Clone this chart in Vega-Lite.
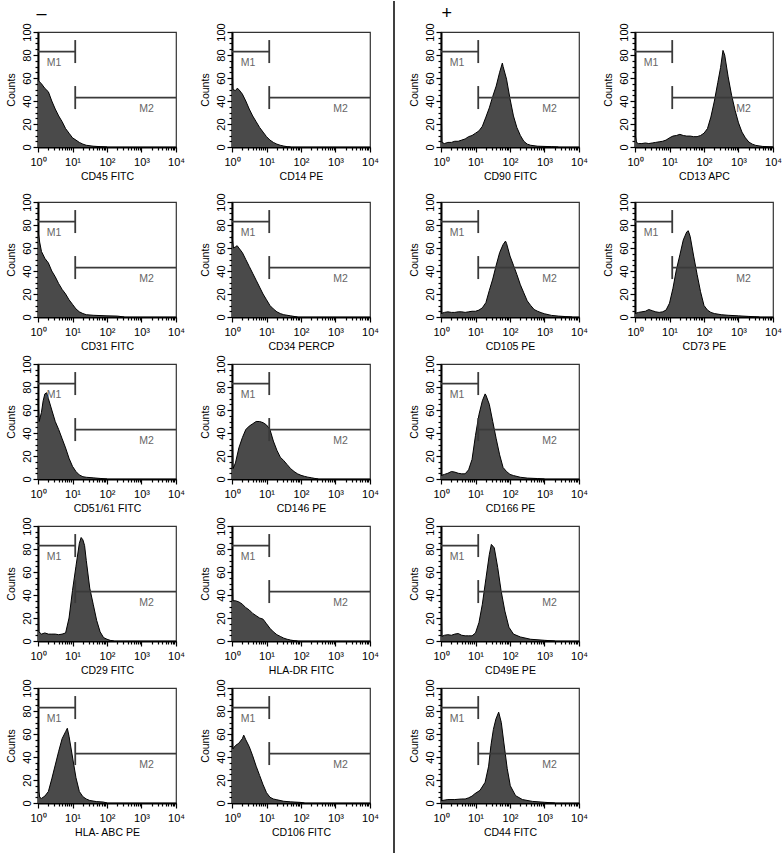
{
"$schema":"https://vega.github.io/schema/vega-lite/v6.json",
"background":"white",
"padding":{"left":5,"right":5,"top":0,"bottom":5},
"config":{"font":"Liberation Sans","view":{"stroke":"#333","strokeWidth":1.2},
"axis":{"grid":false,"domainColor":"#000","domainWidth":2,"tickColor":"#000","tickWidth":1.2,"labelFontSize":11,"labelColor":"#000","titleFontSize":10.5,"titleFontWeight":"normal","titleColor":"#000"},
"axisX":{"labelPadding":4,"titlePadding":4},
"axisY":{"labelPadding":1,"titlePadding":5},
"title":{"fontSize":18,"fontWeight":"normal","color":"#000","anchor":"start","offset":-1}},
"datasets":{
"m":[{"x":1,"x2":12,"y":83,"y2":83},{"x":12,"x2":12,"y":73,"y2":93},{"x":12,"x2":10000,"y":43,"y2":43},{"x":12,"x2":12,"y":33,"y2":53}],
"t":[{"x":2.9,"y":73,"t":"M1"},{"x":1400,"y":33,"t":"M2"}],
"d":[{"x":1,"y":851},{"x":1,"y":-40}],
"h":[
{"p":"CD45","x":1,"y":58},{"p":"CD45","x":1.26,"y":55},{"p":"CD45","x":1.58,"y":51},{"p":"CD45","x":2,"y":48},{"p":"CD45","x":2.51,"y":40},{"p":"CD45","x":3.16,"y":33},{"p":"CD45","x":3.98,"y":27},{"p":"CD45","x":5.01,"y":22},{"p":"CD45","x":6.31,"y":16},{"p":"CD45","x":7.94,"y":12},{"p":"CD45","x":10,"y":8},{"p":"CD45","x":12.6,"y":6},{"p":"CD45","x":15.8,"y":4},{"p":"CD45","x":20,"y":2.5},{"p":"CD45","x":25.1,"y":1.5},{"p":"CD45","x":39.8,"y":0.7},{"p":"CD45","x":63.1,"y":0.3},{"p":"CD45","x":100,"y":0},
{"p":"CD14","x":1,"y":74},{"p":"CD14","x":1.06,"y":50},{"p":"CD14","x":1.26,"y":49},{"p":"CD14","x":1.41,"y":51},{"p":"CD14","x":1.58,"y":50},{"p":"CD14","x":2,"y":46},{"p":"CD14","x":2.51,"y":40},{"p":"CD14","x":3.16,"y":33},{"p":"CD14","x":3.98,"y":27},{"p":"CD14","x":5.01,"y":22},{"p":"CD14","x":6.31,"y":17},{"p":"CD14","x":7.94,"y":13},{"p":"CD14","x":10,"y":9},{"p":"CD14","x":12.6,"y":6},{"p":"CD14","x":15.8,"y":4},{"p":"CD14","x":20,"y":2.5},{"p":"CD14","x":25.1,"y":1.5},{"p":"CD14","x":31.6,"y":0.8},{"p":"CD14","x":39.8,"y":0.3},{"p":"CD14","x":50.1,"y":0},
{"p":"CD31","x":1,"y":75},{"p":"CD31","x":1.12,"y":65},{"p":"CD31","x":1.26,"y":57},{"p":"CD31","x":1.58,"y":51},{"p":"CD31","x":2,"y":47},{"p":"CD31","x":2.51,"y":40},{"p":"CD31","x":3.16,"y":35},{"p":"CD31","x":3.98,"y":29},{"p":"CD31","x":5.01,"y":24},{"p":"CD31","x":6.31,"y":20},{"p":"CD31","x":7.94,"y":15},{"p":"CD31","x":10,"y":11},{"p":"CD31","x":12.6,"y":7},{"p":"CD31","x":15.8,"y":4.5},{"p":"CD31","x":20,"y":3},{"p":"CD31","x":25.1,"y":2},{"p":"CD31","x":39.8,"y":1.5},{"p":"CD31","x":100,"y":1},{"p":"CD31","x":200,"y":0.8},{"p":"CD31","x":316,"y":0},
{"p":"CD34","x":1,"y":70},{"p":"CD34","x":1.1,"y":60},{"p":"CD34","x":1.26,"y":61},{"p":"CD34","x":1.41,"y":62},{"p":"CD34","x":1.58,"y":60},{"p":"CD34","x":2,"y":56},{"p":"CD34","x":2.51,"y":50},{"p":"CD34","x":3.16,"y":44},{"p":"CD34","x":3.98,"y":38},{"p":"CD34","x":5.01,"y":32},{"p":"CD34","x":6.31,"y":26},{"p":"CD34","x":7.94,"y":20},{"p":"CD34","x":10,"y":15},{"p":"CD34","x":12.6,"y":10},{"p":"CD34","x":15.8,"y":7},{"p":"CD34","x":20,"y":4.5},{"p":"CD34","x":25.1,"y":3},{"p":"CD34","x":31.6,"y":2},{"p":"CD34","x":50.1,"y":1},{"p":"CD34","x":79.4,"y":0},
{"p":"CD51","x":1,"y":70},{"p":"CD51","x":1.08,"y":50},{"p":"CD51","x":1.26,"y":58},{"p":"CD51","x":1.41,"y":68},{"p":"CD51","x":1.58,"y":74},{"p":"CD51","x":1.78,"y":75},{"p":"CD51","x":2,"y":70},{"p":"CD51","x":2.51,"y":60},{"p":"CD51","x":3.16,"y":50},{"p":"CD51","x":3.98,"y":43},{"p":"CD51","x":5.01,"y":35},{"p":"CD51","x":6.31,"y":27},{"p":"CD51","x":7.94,"y":18},{"p":"CD51","x":10,"y":11},{"p":"CD51","x":12.6,"y":6.5},{"p":"CD51","x":15.8,"y":3.5},{"p":"CD51","x":20,"y":2},{"p":"CD51","x":25.1,"y":1.5},{"p":"CD51","x":39.8,"y":1},{"p":"CD51","x":63.1,"y":0.5},{"p":"CD51","x":100,"y":0},
{"p":"CD146","x":1,"y":53},{"p":"CD146","x":1.07,"y":9},{"p":"CD146","x":1.26,"y":14},{"p":"CD146","x":1.58,"y":27},{"p":"CD146","x":2,"y":36},{"p":"CD146","x":2.51,"y":43},{"p":"CD146","x":3.16,"y":46},{"p":"CD146","x":3.98,"y":48},{"p":"CD146","x":5.01,"y":50},{"p":"CD146","x":6.31,"y":50},{"p":"CD146","x":7.94,"y":49},{"p":"CD146","x":10,"y":47},{"p":"CD146","x":12.6,"y":43},{"p":"CD146","x":15.8,"y":33},{"p":"CD146","x":20,"y":25},{"p":"CD146","x":25.1,"y":19},{"p":"CD146","x":31.6,"y":16},{"p":"CD146","x":39.8,"y":12.5},{"p":"CD146","x":50.1,"y":9},{"p":"CD146","x":63.1,"y":6.5},{"p":"CD146","x":79.4,"y":4.5},{"p":"CD146","x":100,"y":3.2},{"p":"CD146","x":126,"y":2.3},{"p":"CD146","x":158,"y":1.6},{"p":"CD146","x":200,"y":1.1},{"p":"CD146","x":251,"y":0.5},{"p":"CD146","x":316,"y":0},
{"p":"CD29","x":1,"y":55},{"p":"CD29","x":1.06,"y":8},{"p":"CD29","x":1.26,"y":6},{"p":"CD29","x":1.58,"y":7},{"p":"CD29","x":2,"y":6},{"p":"CD29","x":2.51,"y":6},{"p":"CD29","x":3.16,"y":6},{"p":"CD29","x":3.98,"y":5.5},{"p":"CD29","x":5.01,"y":6},{"p":"CD29","x":6.31,"y":7},{"p":"CD29","x":7.94,"y":20},{"p":"CD29","x":10,"y":44},{"p":"CD29","x":12.6,"y":65},{"p":"CD29","x":15.8,"y":85},{"p":"CD29","x":17.8,"y":90},{"p":"CD29","x":20,"y":88},{"p":"CD29","x":22.4,"y":83},{"p":"CD29","x":25.1,"y":70},{"p":"CD29","x":31.6,"y":46},{"p":"CD29","x":39.8,"y":32},{"p":"CD29","x":50.1,"y":18},{"p":"CD29","x":63.1,"y":8},{"p":"CD29","x":79.4,"y":3},{"p":"CD29","x":100,"y":1.5},{"p":"CD29","x":126,"y":0.5},{"p":"CD29","x":158,"y":0},
{"p":"HLADR","x":1,"y":62},{"p":"HLADR","x":1.06,"y":35},{"p":"HLADR","x":1.26,"y":35},{"p":"HLADR","x":1.58,"y":34},{"p":"HLADR","x":2,"y":32},{"p":"HLADR","x":2.51,"y":29},{"p":"HLADR","x":3.16,"y":27},{"p":"HLADR","x":3.98,"y":24},{"p":"HLADR","x":5.01,"y":22},{"p":"HLADR","x":6.31,"y":20},{"p":"HLADR","x":7.94,"y":19},{"p":"HLADR","x":10,"y":15},{"p":"HLADR","x":12.6,"y":11},{"p":"HLADR","x":15.8,"y":8},{"p":"HLADR","x":20,"y":5.5},{"p":"HLADR","x":25.1,"y":4},{"p":"HLADR","x":31.6,"y":2.5},{"p":"HLADR","x":39.8,"y":1.5},{"p":"HLADR","x":50.1,"y":0.8},{"p":"HLADR","x":63.1,"y":0.3},{"p":"HLADR","x":79.4,"y":0},
{"p":"HLAABC","x":1,"y":35},{"p":"HLAABC","x":1.06,"y":10},{"p":"HLAABC","x":1.12,"y":5},{"p":"HLAABC","x":1.26,"y":4},{"p":"HLAABC","x":1.58,"y":6},{"p":"HLAABC","x":2,"y":10},{"p":"HLAABC","x":2.51,"y":21},{"p":"HLAABC","x":3.16,"y":33},{"p":"HLAABC","x":3.98,"y":45},{"p":"HLAABC","x":5.01,"y":56},{"p":"HLAABC","x":6.31,"y":62},{"p":"HLAABC","x":7.08,"y":65},{"p":"HLAABC","x":7.94,"y":58},{"p":"HLAABC","x":10,"y":40},{"p":"HLAABC","x":12.6,"y":22},{"p":"HLAABC","x":15.8,"y":10},{"p":"HLAABC","x":20,"y":5.5},{"p":"HLAABC","x":25.1,"y":3.5},{"p":"HLAABC","x":31.6,"y":2.2},{"p":"HLAABC","x":50.1,"y":1.2},{"p":"HLAABC","x":79.4,"y":0.8},{"p":"HLAABC","x":100,"y":0},
{"p":"CD106","x":1,"y":60},{"p":"CD106","x":1.06,"y":47},{"p":"CD106","x":1.26,"y":50},{"p":"CD106","x":1.58,"y":52},{"p":"CD106","x":2,"y":56},{"p":"CD106","x":2.19,"y":59},{"p":"CD106","x":2.51,"y":55},{"p":"CD106","x":3.16,"y":49},{"p":"CD106","x":3.98,"y":41},{"p":"CD106","x":5.01,"y":32},{"p":"CD106","x":6.31,"y":24},{"p":"CD106","x":7.94,"y":16},{"p":"CD106","x":10,"y":9},{"p":"CD106","x":12.6,"y":5},{"p":"CD106","x":15.8,"y":3.5},{"p":"CD106","x":20,"y":2.8},{"p":"CD106","x":31.6,"y":1.5},{"p":"CD106","x":50.1,"y":1},{"p":"CD106","x":100,"y":0.5},{"p":"CD106","x":126,"y":0},
{"p":"CD90","x":1,"y":45},{"p":"CD90","x":1.06,"y":4},{"p":"CD90","x":1.26,"y":3},{"p":"CD90","x":1.58,"y":4},{"p":"CD90","x":2,"y":4},{"p":"CD90","x":2.51,"y":5},{"p":"CD90","x":3.16,"y":5},{"p":"CD90","x":3.98,"y":6},{"p":"CD90","x":5.01,"y":7},{"p":"CD90","x":6.31,"y":9},{"p":"CD90","x":7.94,"y":10},{"p":"CD90","x":10,"y":12},{"p":"CD90","x":12.6,"y":14},{"p":"CD90","x":15.8,"y":18},{"p":"CD90","x":20,"y":26},{"p":"CD90","x":25.1,"y":34},{"p":"CD90","x":31.6,"y":44},{"p":"CD90","x":39.8,"y":53},{"p":"CD90","x":50.1,"y":65},{"p":"CD90","x":60,"y":73},{"p":"CD90","x":63.1,"y":70},{"p":"CD90","x":79.4,"y":59},{"p":"CD90","x":100,"y":42},{"p":"CD90","x":126,"y":27},{"p":"CD90","x":158,"y":17},{"p":"CD90","x":200,"y":10},{"p":"CD90","x":251,"y":5},{"p":"CD90","x":316,"y":2.5},{"p":"CD90","x":398,"y":1.5},{"p":"CD90","x":631,"y":0.7},{"p":"CD90","x":1585,"y":0.3},{"p":"CD90","x":2512,"y":0},
{"p":"CD13","x":1,"y":12},{"p":"CD13","x":1.1,"y":4},{"p":"CD13","x":1.26,"y":3},{"p":"CD13","x":1.58,"y":3},{"p":"CD13","x":2,"y":3.5},{"p":"CD13","x":2.51,"y":3},{"p":"CD13","x":3.16,"y":3.5},{"p":"CD13","x":3.98,"y":4},{"p":"CD13","x":5.01,"y":4.5},{"p":"CD13","x":6.31,"y":5},{"p":"CD13","x":7.94,"y":6},{"p":"CD13","x":10,"y":8},{"p":"CD13","x":12.6,"y":9.5},{"p":"CD13","x":15.8,"y":10},{"p":"CD13","x":20,"y":11},{"p":"CD13","x":25.1,"y":10},{"p":"CD13","x":31.6,"y":9.5},{"p":"CD13","x":39.8,"y":9.5},{"p":"CD13","x":50.1,"y":9},{"p":"CD13","x":63.1,"y":9},{"p":"CD13","x":79.4,"y":10},{"p":"CD13","x":100,"y":12},{"p":"CD13","x":126,"y":16},{"p":"CD13","x":158,"y":26},{"p":"CD13","x":200,"y":40},{"p":"CD13","x":251,"y":56},{"p":"CD13","x":302,"y":69},{"p":"CD13","x":355,"y":84},{"p":"CD13","x":398,"y":80},{"p":"CD13","x":501,"y":61},{"p":"CD13","x":631,"y":45},{"p":"CD13","x":794,"y":32},{"p":"CD13","x":1000,"y":21},{"p":"CD13","x":1259,"y":13},{"p":"CD13","x":1585,"y":8},{"p":"CD13","x":1995,"y":4.3},{"p":"CD13","x":2512,"y":2.5},{"p":"CD13","x":3162,"y":1.4},{"p":"CD13","x":5012,"y":0.5},{"p":"CD13","x":10000,"y":0},
{"p":"CD105","x":1,"y":3},{"p":"CD105","x":1.26,"y":4},{"p":"CD105","x":1.58,"y":4.5},{"p":"CD105","x":2,"y":4},{"p":"CD105","x":2.51,"y":4},{"p":"CD105","x":3.16,"y":4.5},{"p":"CD105","x":3.98,"y":4.5},{"p":"CD105","x":5.01,"y":4},{"p":"CD105","x":6.31,"y":4.5},{"p":"CD105","x":7.94,"y":5},{"p":"CD105","x":10,"y":5},{"p":"CD105","x":12.6,"y":6},{"p":"CD105","x":15.8,"y":8},{"p":"CD105","x":20,"y":12.5},{"p":"CD105","x":25.1,"y":23},{"p":"CD105","x":31.6,"y":33},{"p":"CD105","x":39.8,"y":45},{"p":"CD105","x":50.1,"y":56},{"p":"CD105","x":63.1,"y":63},{"p":"CD105","x":74,"y":66},{"p":"CD105","x":79.4,"y":64},{"p":"CD105","x":100,"y":53},{"p":"CD105","x":126,"y":45},{"p":"CD105","x":158,"y":37},{"p":"CD105","x":200,"y":28},{"p":"CD105","x":251,"y":21},{"p":"CD105","x":316,"y":14},{"p":"CD105","x":398,"y":10},{"p":"CD105","x":501,"y":6.5},{"p":"CD105","x":631,"y":5},{"p":"CD105","x":794,"y":3.8},{"p":"CD105","x":1000,"y":2.8},{"p":"CD105","x":1585,"y":1.4},{"p":"CD105","x":2512,"y":0.8},{"p":"CD105","x":3981,"y":0.4},{"p":"CD105","x":6310,"y":0},
{"p":"CD73","x":1,"y":3},{"p":"CD73","x":1.26,"y":4},{"p":"CD73","x":1.58,"y":4.5},{"p":"CD73","x":2,"y":5},{"p":"CD73","x":2.51,"y":6.5},{"p":"CD73","x":3.16,"y":5.5},{"p":"CD73","x":3.98,"y":4.5},{"p":"CD73","x":5.01,"y":4},{"p":"CD73","x":6.31,"y":4.5},{"p":"CD73","x":7.94,"y":6},{"p":"CD73","x":10,"y":12},{"p":"CD73","x":12.6,"y":25},{"p":"CD73","x":15.8,"y":41},{"p":"CD73","x":20,"y":54},{"p":"CD73","x":25.1,"y":67},{"p":"CD73","x":31.6,"y":74},{"p":"CD73","x":35,"y":75},{"p":"CD73","x":39.8,"y":70},{"p":"CD73","x":50.1,"y":53},{"p":"CD73","x":63.1,"y":37},{"p":"CD73","x":79.4,"y":22},{"p":"CD73","x":100,"y":10},{"p":"CD73","x":126,"y":6},{"p":"CD73","x":158,"y":4},{"p":"CD73","x":200,"y":3},{"p":"CD73","x":316,"y":2},{"p":"CD73","x":501,"y":1.5},{"p":"CD73","x":1000,"y":1},{"p":"CD73","x":2000,"y":0.5},{"p":"CD73","x":4000,"y":0},
{"p":"CD166","x":1,"y":3},{"p":"CD166","x":1.26,"y":4},{"p":"CD166","x":1.58,"y":5},{"p":"CD166","x":2,"y":6.5},{"p":"CD166","x":2.51,"y":6},{"p":"CD166","x":3.16,"y":5},{"p":"CD166","x":3.98,"y":4.5},{"p":"CD166","x":5.01,"y":4.5},{"p":"CD166","x":6.31,"y":8},{"p":"CD166","x":7.94,"y":17},{"p":"CD166","x":10,"y":38},{"p":"CD166","x":12.6,"y":56},{"p":"CD166","x":15.8,"y":68},{"p":"CD166","x":19,"y":74},{"p":"CD166","x":20,"y":73},{"p":"CD166","x":25.1,"y":65},{"p":"CD166","x":31.6,"y":50},{"p":"CD166","x":39.8,"y":35},{"p":"CD166","x":50.1,"y":21},{"p":"CD166","x":63.1,"y":10},{"p":"CD166","x":79.4,"y":6.5},{"p":"CD166","x":100,"y":4},{"p":"CD166","x":126,"y":3},{"p":"CD166","x":200,"y":1.5},{"p":"CD166","x":316,"y":0.8},{"p":"CD166","x":631,"y":0.4},{"p":"CD166","x":1000,"y":0},
{"p":"CD49E","x":1,"y":50},{"p":"CD49E","x":1.06,"y":4},{"p":"CD49E","x":1.26,"y":5},{"p":"CD49E","x":1.58,"y":5.5},{"p":"CD49E","x":2,"y":5},{"p":"CD49E","x":2.51,"y":6},{"p":"CD49E","x":3.16,"y":6.5},{"p":"CD49E","x":3.98,"y":5},{"p":"CD49E","x":5.01,"y":4.5},{"p":"CD49E","x":6.31,"y":4.5},{"p":"CD49E","x":7.94,"y":4.5},{"p":"CD49E","x":10,"y":7},{"p":"CD49E","x":12.6,"y":16},{"p":"CD49E","x":15.8,"y":32},{"p":"CD49E","x":20,"y":54},{"p":"CD49E","x":25.1,"y":75},{"p":"CD49E","x":28.8,"y":84},{"p":"CD49E","x":35,"y":81},{"p":"CD49E","x":44,"y":64},{"p":"CD49E","x":55,"y":44},{"p":"CD49E","x":71,"y":26},{"p":"CD49E","x":93,"y":12},{"p":"CD49E","x":126,"y":6},{"p":"CD49E","x":200,"y":3.5},{"p":"CD49E","x":398,"y":1.5},{"p":"CD49E","x":1000,"y":0.6},{"p":"CD49E","x":2000,"y":0},
{"p":"CD44","x":1,"y":2},{"p":"CD44","x":1.58,"y":3},{"p":"CD44","x":2.51,"y":3},{"p":"CD44","x":3.98,"y":3.5},{"p":"CD44","x":5.01,"y":3.5},{"p":"CD44","x":6.31,"y":4.5},{"p":"CD44","x":7.94,"y":6},{"p":"CD44","x":9.5,"y":8},{"p":"CD44","x":13.5,"y":11},{"p":"CD44","x":19,"y":18},{"p":"CD44","x":24,"y":32},{"p":"CD44","x":28,"y":50},{"p":"CD44","x":33,"y":64},{"p":"CD44","x":39,"y":73},{"p":"CD44","x":47,"y":79},{"p":"CD44","x":56,"y":70},{"p":"CD44","x":66,"y":53},{"p":"CD44","x":83,"y":30},{"p":"CD44","x":102,"y":15},{"p":"CD44","x":145,"y":6.4},{"p":"CD44","x":229,"y":3},{"p":"CD44","x":447,"y":1.4},{"p":"CD44","x":1000,"y":0.6},{"p":"CD44","x":2000,"y":0}
]},
"spacing":13,
"hconcat":[
{"title":{"text":"–","dx":31},"spacing":9,"vconcat":[
{"width":138,"height":115,"encoding":{"x":{"field":"x","type":"quantitative","scale":{"type":"log","domain":[1,10000]},"axis":{"title":"CD45 FITC","values":[1,2,3,4,5,6,7,8,9,10,20,30,40,50,60,70,80,90,100,200,300,400,500,600,700,800,900,1000,2000,3000,4000,5000,6000,7000,8000,9000,10000],"labelExpr":"datum.value==1?'10⁰':datum.value==10?'10¹':datum.value==100?'10²':datum.value==1000?'10³':datum.value==10000?'10⁴':''","tickSize":{"condition":{"test":"indexof([1,10,100,1000,10000],datum.value)>=0","value":5},"value":3},"labelOverlap":false,"labelFlush":false}},"y":{"field":"y","type":"quantitative","scale":{"domain":[0,100]},"axis":{"title":"Counts","values":[0,5,10,15,20,25,30,35,40,45,50,55,60,65,70,75,80,85,90,95,100],"labelExpr":"datum.value%20==0?''+datum.value:''","labelAngle":-90,"labelAlign":"center","labelBaseline":"bottom","tickSize":{"condition":{"test":"datum.value%20==0","value":5},"value":3},"labelOverlap":false,"labelFlush":false}}},"layer":[{"data":{"name":"h"},"transform":[{"filter":"datum.p=='CD45'"}],"mark":{"type":"area","color":"#4a4a4a","opacity":1,"fillOpacity":1,"line":{"color":"#000","strokeWidth":1}}},{"data":{"name":"m"},"mark":{"type":"rule","color":"#3a3a3a","strokeWidth":1.8},"encoding":{"x2":{"field":"x2"},"y2":{"field":"y2"}}},{"data":{"name":"t"},"mark":{"type":"text","color":"#666","fontSize":10.5},"encoding":{"text":{"field":"t"}}}]},
{"spacing":1,"vconcat":[
{"width":138,"height":115,"encoding":{"x":{"field":"x","type":"quantitative","scale":{"type":"log","domain":[1,10000]},"axis":{"title":"CD31 FITC","values":[1,2,3,4,5,6,7,8,9,10,20,30,40,50,60,70,80,90,100,200,300,400,500,600,700,800,900,1000,2000,3000,4000,5000,6000,7000,8000,9000,10000],"labelExpr":"datum.value==1?'10⁰':datum.value==10?'10¹':datum.value==100?'10²':datum.value==1000?'10³':datum.value==10000?'10⁴':''","tickSize":{"condition":{"test":"indexof([1,10,100,1000,10000],datum.value)>=0","value":5},"value":3},"labelOverlap":false,"labelFlush":false}},"y":{"field":"y","type":"quantitative","scale":{"domain":[0,100]},"axis":{"title":"Counts","values":[0,5,10,15,20,25,30,35,40,45,50,55,60,65,70,75,80,85,90,95,100],"labelExpr":"datum.value%20==0?''+datum.value:''","labelAngle":-90,"labelAlign":"center","labelBaseline":"bottom","tickSize":{"condition":{"test":"datum.value%20==0","value":5},"value":3},"labelOverlap":false,"labelFlush":false}}},"layer":[{"data":{"name":"h"},"transform":[{"filter":"datum.p=='CD31'"}],"mark":{"type":"area","color":"#4a4a4a","opacity":1,"fillOpacity":1,"line":{"color":"#000","strokeWidth":1}}},{"data":{"name":"m"},"mark":{"type":"rule","color":"#3a3a3a","strokeWidth":1.8},"encoding":{"x2":{"field":"x2"},"y2":{"field":"y2"}}},{"data":{"name":"t"},"mark":{"type":"text","color":"#666","fontSize":10.5},"encoding":{"text":{"field":"t"}}}]},
{"width":138,"height":115,"encoding":{"x":{"field":"x","type":"quantitative","scale":{"type":"log","domain":[1,10000]},"axis":{"title":"CD51/61 FITC","values":[1,2,3,4,5,6,7,8,9,10,20,30,40,50,60,70,80,90,100,200,300,400,500,600,700,800,900,1000,2000,3000,4000,5000,6000,7000,8000,9000,10000],"labelExpr":"datum.value==1?'10⁰':datum.value==10?'10¹':datum.value==100?'10²':datum.value==1000?'10³':datum.value==10000?'10⁴':''","tickSize":{"condition":{"test":"indexof([1,10,100,1000,10000],datum.value)>=0","value":5},"value":3},"labelOverlap":false,"labelFlush":false}},"y":{"field":"y","type":"quantitative","scale":{"domain":[0,100]},"axis":{"title":"Counts","values":[0,5,10,15,20,25,30,35,40,45,50,55,60,65,70,75,80,85,90,95,100],"labelExpr":"datum.value%20==0?''+datum.value:''","labelAngle":-90,"labelAlign":"center","labelBaseline":"bottom","tickSize":{"condition":{"test":"datum.value%20==0","value":5},"value":3},"labelOverlap":false,"labelFlush":false}}},"layer":[{"data":{"name":"h"},"transform":[{"filter":"datum.p=='CD51'"}],"mark":{"type":"area","color":"#4a4a4a","opacity":1,"fillOpacity":1,"line":{"color":"#000","strokeWidth":1}}},{"data":{"name":"m"},"mark":{"type":"rule","color":"#3a3a3a","strokeWidth":1.8},"encoding":{"x2":{"field":"x2"},"y2":{"field":"y2"}}},{"data":{"name":"t"},"mark":{"type":"text","color":"#666","fontSize":10.5},"encoding":{"text":{"field":"t"}}}]},
{"width":138,"height":115,"encoding":{"x":{"field":"x","type":"quantitative","scale":{"type":"log","domain":[1,10000]},"axis":{"title":"CD29 FITC","values":[1,2,3,4,5,6,7,8,9,10,20,30,40,50,60,70,80,90,100,200,300,400,500,600,700,800,900,1000,2000,3000,4000,5000,6000,7000,8000,9000,10000],"labelExpr":"datum.value==1?'10⁰':datum.value==10?'10¹':datum.value==100?'10²':datum.value==1000?'10³':datum.value==10000?'10⁴':''","tickSize":{"condition":{"test":"indexof([1,10,100,1000,10000],datum.value)>=0","value":5},"value":3},"labelOverlap":false,"labelFlush":false}},"y":{"field":"y","type":"quantitative","scale":{"domain":[0,100]},"axis":{"title":"Counts","values":[0,5,10,15,20,25,30,35,40,45,50,55,60,65,70,75,80,85,90,95,100],"labelExpr":"datum.value%20==0?''+datum.value:''","labelAngle":-90,"labelAlign":"center","labelBaseline":"bottom","tickSize":{"condition":{"test":"datum.value%20==0","value":5},"value":3},"labelOverlap":false,"labelFlush":false}}},"layer":[{"data":{"name":"h"},"transform":[{"filter":"datum.p=='CD29'"}],"mark":{"type":"area","color":"#4a4a4a","opacity":1,"fillOpacity":1,"line":{"color":"#000","strokeWidth":1}}},{"data":{"name":"m"},"mark":{"type":"rule","color":"#3a3a3a","strokeWidth":1.8},"encoding":{"x2":{"field":"x2"},"y2":{"field":"y2"}}},{"data":{"name":"t"},"mark":{"type":"text","color":"#666","fontSize":10.5},"encoding":{"text":{"field":"t"}}}]},
{"width":138,"height":115,"encoding":{"x":{"field":"x","type":"quantitative","scale":{"type":"log","domain":[1,10000]},"axis":{"title":"HLA- ABC PE","values":[1,2,3,4,5,6,7,8,9,10,20,30,40,50,60,70,80,90,100,200,300,400,500,600,700,800,900,1000,2000,3000,4000,5000,6000,7000,8000,9000,10000],"labelExpr":"datum.value==1?'10⁰':datum.value==10?'10¹':datum.value==100?'10²':datum.value==1000?'10³':datum.value==10000?'10⁴':''","tickSize":{"condition":{"test":"indexof([1,10,100,1000,10000],datum.value)>=0","value":5},"value":3},"labelOverlap":false,"labelFlush":false}},"y":{"field":"y","type":"quantitative","scale":{"domain":[0,100]},"axis":{"title":"Counts","values":[0,5,10,15,20,25,30,35,40,45,50,55,60,65,70,75,80,85,90,95,100],"labelExpr":"datum.value%20==0?''+datum.value:''","labelAngle":-90,"labelAlign":"center","labelBaseline":"bottom","tickSize":{"condition":{"test":"datum.value%20==0","value":5},"value":3},"labelOverlap":false,"labelFlush":false}}},"layer":[{"data":{"name":"h"},"transform":[{"filter":"datum.p=='HLAABC'"}],"mark":{"type":"area","color":"#4a4a4a","opacity":1,"fillOpacity":1,"line":{"color":"#000","strokeWidth":1}}},{"data":{"name":"m"},"mark":{"type":"rule","color":"#3a3a3a","strokeWidth":1.8},"encoding":{"x2":{"field":"x2"},"y2":{"field":"y2"}}},{"data":{"name":"t"},"mark":{"type":"text","color":"#666","fontSize":10.5},"encoding":{"text":{"field":"t"}}}]}
]}]},
{"title":{"text":" "},"spacing":9,"vconcat":[
{"width":138,"height":115,"encoding":{"x":{"field":"x","type":"quantitative","scale":{"type":"log","domain":[1,10000]},"axis":{"title":"CD14 PE","values":[1,2,3,4,5,6,7,8,9,10,20,30,40,50,60,70,80,90,100,200,300,400,500,600,700,800,900,1000,2000,3000,4000,5000,6000,7000,8000,9000,10000],"labelExpr":"datum.value==1?'10⁰':datum.value==10?'10¹':datum.value==100?'10²':datum.value==1000?'10³':datum.value==10000?'10⁴':''","tickSize":{"condition":{"test":"indexof([1,10,100,1000,10000],datum.value)>=0","value":5},"value":3},"labelOverlap":false,"labelFlush":false}},"y":{"field":"y","type":"quantitative","scale":{"domain":[0,100]},"axis":{"title":"Counts","values":[0,5,10,15,20,25,30,35,40,45,50,55,60,65,70,75,80,85,90,95,100],"labelExpr":"datum.value%20==0?''+datum.value:''","labelAngle":-90,"labelAlign":"center","labelBaseline":"bottom","tickSize":{"condition":{"test":"datum.value%20==0","value":5},"value":3},"labelOverlap":false,"labelFlush":false}}},"layer":[{"data":{"name":"h"},"transform":[{"filter":"datum.p=='CD14'"}],"mark":{"type":"area","color":"#4a4a4a","opacity":1,"fillOpacity":1,"line":{"color":"#000","strokeWidth":1}}},{"data":{"name":"m"},"mark":{"type":"rule","color":"#3a3a3a","strokeWidth":1.8},"encoding":{"x2":{"field":"x2"},"y2":{"field":"y2"}}},{"data":{"name":"t"},"mark":{"type":"text","color":"#666","fontSize":10.5},"encoding":{"text":{"field":"t"}}}]},
{"spacing":1,"vconcat":[
{"width":138,"height":115,"encoding":{"x":{"field":"x","type":"quantitative","scale":{"type":"log","domain":[1,10000]},"axis":{"title":"CD34 PERCP","values":[1,2,3,4,5,6,7,8,9,10,20,30,40,50,60,70,80,90,100,200,300,400,500,600,700,800,900,1000,2000,3000,4000,5000,6000,7000,8000,9000,10000],"labelExpr":"datum.value==1?'10⁰':datum.value==10?'10¹':datum.value==100?'10²':datum.value==1000?'10³':datum.value==10000?'10⁴':''","tickSize":{"condition":{"test":"indexof([1,10,100,1000,10000],datum.value)>=0","value":5},"value":3},"labelOverlap":false,"labelFlush":false}},"y":{"field":"y","type":"quantitative","scale":{"domain":[0,100]},"axis":{"title":"Counts","values":[0,5,10,15,20,25,30,35,40,45,50,55,60,65,70,75,80,85,90,95,100],"labelExpr":"datum.value%20==0?''+datum.value:''","labelAngle":-90,"labelAlign":"center","labelBaseline":"bottom","tickSize":{"condition":{"test":"datum.value%20==0","value":5},"value":3},"labelOverlap":false,"labelFlush":false}}},"layer":[{"data":{"name":"h"},"transform":[{"filter":"datum.p=='CD34'"}],"mark":{"type":"area","color":"#4a4a4a","opacity":1,"fillOpacity":1,"line":{"color":"#000","strokeWidth":1}}},{"data":{"name":"m"},"mark":{"type":"rule","color":"#3a3a3a","strokeWidth":1.8},"encoding":{"x2":{"field":"x2"},"y2":{"field":"y2"}}},{"data":{"name":"t"},"mark":{"type":"text","color":"#666","fontSize":10.5},"encoding":{"text":{"field":"t"}}}]},
{"width":138,"height":115,"encoding":{"x":{"field":"x","type":"quantitative","scale":{"type":"log","domain":[1,10000]},"axis":{"title":"CD146 PE","values":[1,2,3,4,5,6,7,8,9,10,20,30,40,50,60,70,80,90,100,200,300,400,500,600,700,800,900,1000,2000,3000,4000,5000,6000,7000,8000,9000,10000],"labelExpr":"datum.value==1?'10⁰':datum.value==10?'10¹':datum.value==100?'10²':datum.value==1000?'10³':datum.value==10000?'10⁴':''","tickSize":{"condition":{"test":"indexof([1,10,100,1000,10000],datum.value)>=0","value":5},"value":3},"labelOverlap":false,"labelFlush":false}},"y":{"field":"y","type":"quantitative","scale":{"domain":[0,100]},"axis":{"title":"Counts","values":[0,5,10,15,20,25,30,35,40,45,50,55,60,65,70,75,80,85,90,95,100],"labelExpr":"datum.value%20==0?''+datum.value:''","labelAngle":-90,"labelAlign":"center","labelBaseline":"bottom","tickSize":{"condition":{"test":"datum.value%20==0","value":5},"value":3},"labelOverlap":false,"labelFlush":false}}},"layer":[{"data":{"name":"h"},"transform":[{"filter":"datum.p=='CD146'"}],"mark":{"type":"area","color":"#4a4a4a","opacity":1,"fillOpacity":1,"line":{"color":"#000","strokeWidth":1}}},{"data":{"name":"m"},"mark":{"type":"rule","color":"#3a3a3a","strokeWidth":1.8},"encoding":{"x2":{"field":"x2"},"y2":{"field":"y2"}}},{"data":{"name":"t"},"mark":{"type":"text","color":"#666","fontSize":10.5},"encoding":{"text":{"field":"t"}}}]},
{"width":138,"height":115,"encoding":{"x":{"field":"x","type":"quantitative","scale":{"type":"log","domain":[1,10000]},"axis":{"title":"HLA-DR  FITC","values":[1,2,3,4,5,6,7,8,9,10,20,30,40,50,60,70,80,90,100,200,300,400,500,600,700,800,900,1000,2000,3000,4000,5000,6000,7000,8000,9000,10000],"labelExpr":"datum.value==1?'10⁰':datum.value==10?'10¹':datum.value==100?'10²':datum.value==1000?'10³':datum.value==10000?'10⁴':''","tickSize":{"condition":{"test":"indexof([1,10,100,1000,10000],datum.value)>=0","value":5},"value":3},"labelOverlap":false,"labelFlush":false}},"y":{"field":"y","type":"quantitative","scale":{"domain":[0,100]},"axis":{"title":"Counts","values":[0,5,10,15,20,25,30,35,40,45,50,55,60,65,70,75,80,85,90,95,100],"labelExpr":"datum.value%20==0?''+datum.value:''","labelAngle":-90,"labelAlign":"center","labelBaseline":"bottom","tickSize":{"condition":{"test":"datum.value%20==0","value":5},"value":3},"labelOverlap":false,"labelFlush":false}}},"layer":[{"data":{"name":"h"},"transform":[{"filter":"datum.p=='HLADR'"}],"mark":{"type":"area","color":"#4a4a4a","opacity":1,"fillOpacity":1,"line":{"color":"#000","strokeWidth":1}}},{"data":{"name":"m"},"mark":{"type":"rule","color":"#3a3a3a","strokeWidth":1.8},"encoding":{"x2":{"field":"x2"},"y2":{"field":"y2"}}},{"data":{"name":"t"},"mark":{"type":"text","color":"#666","fontSize":10.5},"encoding":{"text":{"field":"t"}}}]},
{"width":138,"height":115,"encoding":{"x":{"field":"x","type":"quantitative","scale":{"type":"log","domain":[1,10000]},"axis":{"title":"CD106 FITC","values":[1,2,3,4,5,6,7,8,9,10,20,30,40,50,60,70,80,90,100,200,300,400,500,600,700,800,900,1000,2000,3000,4000,5000,6000,7000,8000,9000,10000],"labelExpr":"datum.value==1?'10⁰':datum.value==10?'10¹':datum.value==100?'10²':datum.value==1000?'10³':datum.value==10000?'10⁴':''","tickSize":{"condition":{"test":"indexof([1,10,100,1000,10000],datum.value)>=0","value":5},"value":3},"labelOverlap":false,"labelFlush":false}},"y":{"field":"y","type":"quantitative","scale":{"domain":[0,100]},"axis":{"title":"Counts","values":[0,5,10,15,20,25,30,35,40,45,50,55,60,65,70,75,80,85,90,95,100],"labelExpr":"datum.value%20==0?''+datum.value:''","labelAngle":-90,"labelAlign":"center","labelBaseline":"bottom","tickSize":{"condition":{"test":"datum.value%20==0","value":5},"value":3},"labelOverlap":false,"labelFlush":false}}},"layer":[{"data":{"name":"h"},"transform":[{"filter":"datum.p=='CD106'"}],"mark":{"type":"area","color":"#4a4a4a","opacity":1,"fillOpacity":1,"line":{"color":"#000","strokeWidth":1}}},{"data":{"name":"m"},"mark":{"type":"rule","color":"#3a3a3a","strokeWidth":1.8},"encoding":{"x2":{"field":"x2"},"y2":{"field":"y2"}}},{"data":{"name":"t"},"mark":{"type":"text","color":"#666","fontSize":10.5},"encoding":{"text":{"field":"t"}}}]}
]}]},
{"width":2,"height":820,"data":{"name":"d"},"mark":{"type":"rule","color":"#000","strokeWidth":1.5},"encoding":{"x":{"field":"x","type":"quantitative","scale":{"domain":[0,2]},"axis":null},"y":{"aggregate":"max","field":"y","type":"quantitative","scale":{"domain":[0,820]},"axis":null},"y2":{"aggregate":"min","field":"y"}},"view":{"stroke":null}},
{"title":{"text":"+","dx":33},"spacing":9,"vconcat":[
{"width":138,"height":115,"encoding":{"x":{"field":"x","type":"quantitative","scale":{"type":"log","domain":[1,10000]},"axis":{"title":"CD90 FITC","values":[1,2,3,4,5,6,7,8,9,10,20,30,40,50,60,70,80,90,100,200,300,400,500,600,700,800,900,1000,2000,3000,4000,5000,6000,7000,8000,9000,10000],"labelExpr":"datum.value==1?'10⁰':datum.value==10?'10¹':datum.value==100?'10²':datum.value==1000?'10³':datum.value==10000?'10⁴':''","tickSize":{"condition":{"test":"indexof([1,10,100,1000,10000],datum.value)>=0","value":5},"value":3},"labelOverlap":false,"labelFlush":false}},"y":{"field":"y","type":"quantitative","scale":{"domain":[0,100]},"axis":{"title":"Counts","values":[0,5,10,15,20,25,30,35,40,45,50,55,60,65,70,75,80,85,90,95,100],"labelExpr":"datum.value%20==0?''+datum.value:''","labelAngle":-90,"labelAlign":"center","labelBaseline":"bottom","tickSize":{"condition":{"test":"datum.value%20==0","value":5},"value":3},"labelOverlap":false,"labelFlush":false}}},"layer":[{"data":{"name":"h"},"transform":[{"filter":"datum.p=='CD90'"}],"mark":{"type":"area","color":"#4a4a4a","opacity":1,"fillOpacity":1,"line":{"color":"#000","strokeWidth":1}}},{"data":{"name":"m"},"mark":{"type":"rule","color":"#3a3a3a","strokeWidth":1.8},"encoding":{"x2":{"field":"x2"},"y2":{"field":"y2"}}},{"data":{"name":"t"},"mark":{"type":"text","color":"#666","fontSize":10.5},"encoding":{"text":{"field":"t"}}}]},
{"spacing":1,"vconcat":[
{"width":138,"height":115,"encoding":{"x":{"field":"x","type":"quantitative","scale":{"type":"log","domain":[1,10000]},"axis":{"title":"CD105 PE","values":[1,2,3,4,5,6,7,8,9,10,20,30,40,50,60,70,80,90,100,200,300,400,500,600,700,800,900,1000,2000,3000,4000,5000,6000,7000,8000,9000,10000],"labelExpr":"datum.value==1?'10⁰':datum.value==10?'10¹':datum.value==100?'10²':datum.value==1000?'10³':datum.value==10000?'10⁴':''","tickSize":{"condition":{"test":"indexof([1,10,100,1000,10000],datum.value)>=0","value":5},"value":3},"labelOverlap":false,"labelFlush":false}},"y":{"field":"y","type":"quantitative","scale":{"domain":[0,100]},"axis":{"title":"Counts","values":[0,5,10,15,20,25,30,35,40,45,50,55,60,65,70,75,80,85,90,95,100],"labelExpr":"datum.value%20==0?''+datum.value:''","labelAngle":-90,"labelAlign":"center","labelBaseline":"bottom","tickSize":{"condition":{"test":"datum.value%20==0","value":5},"value":3},"labelOverlap":false,"labelFlush":false}}},"layer":[{"data":{"name":"h"},"transform":[{"filter":"datum.p=='CD105'"}],"mark":{"type":"area","color":"#4a4a4a","opacity":1,"fillOpacity":1,"line":{"color":"#000","strokeWidth":1}}},{"data":{"name":"m"},"mark":{"type":"rule","color":"#3a3a3a","strokeWidth":1.8},"encoding":{"x2":{"field":"x2"},"y2":{"field":"y2"}}},{"data":{"name":"t"},"mark":{"type":"text","color":"#666","fontSize":10.5},"encoding":{"text":{"field":"t"}}}]},
{"width":138,"height":115,"encoding":{"x":{"field":"x","type":"quantitative","scale":{"type":"log","domain":[1,10000]},"axis":{"title":"CD166 PE","values":[1,2,3,4,5,6,7,8,9,10,20,30,40,50,60,70,80,90,100,200,300,400,500,600,700,800,900,1000,2000,3000,4000,5000,6000,7000,8000,9000,10000],"labelExpr":"datum.value==1?'10⁰':datum.value==10?'10¹':datum.value==100?'10²':datum.value==1000?'10³':datum.value==10000?'10⁴':''","tickSize":{"condition":{"test":"indexof([1,10,100,1000,10000],datum.value)>=0","value":5},"value":3},"labelOverlap":false,"labelFlush":false}},"y":{"field":"y","type":"quantitative","scale":{"domain":[0,100]},"axis":{"title":"Counts","values":[0,5,10,15,20,25,30,35,40,45,50,55,60,65,70,75,80,85,90,95,100],"labelExpr":"datum.value%20==0?''+datum.value:''","labelAngle":-90,"labelAlign":"center","labelBaseline":"bottom","tickSize":{"condition":{"test":"datum.value%20==0","value":5},"value":3},"labelOverlap":false,"labelFlush":false}}},"layer":[{"data":{"name":"h"},"transform":[{"filter":"datum.p=='CD166'"}],"mark":{"type":"area","color":"#4a4a4a","opacity":1,"fillOpacity":1,"line":{"color":"#000","strokeWidth":1}}},{"data":{"name":"m"},"mark":{"type":"rule","color":"#3a3a3a","strokeWidth":1.8},"encoding":{"x2":{"field":"x2"},"y2":{"field":"y2"}}},{"data":{"name":"t"},"mark":{"type":"text","color":"#666","fontSize":10.5},"encoding":{"text":{"field":"t"}}}]},
{"width":138,"height":115,"encoding":{"x":{"field":"x","type":"quantitative","scale":{"type":"log","domain":[1,10000]},"axis":{"title":"CD49E PE","values":[1,2,3,4,5,6,7,8,9,10,20,30,40,50,60,70,80,90,100,200,300,400,500,600,700,800,900,1000,2000,3000,4000,5000,6000,7000,8000,9000,10000],"labelExpr":"datum.value==1?'10⁰':datum.value==10?'10¹':datum.value==100?'10²':datum.value==1000?'10³':datum.value==10000?'10⁴':''","tickSize":{"condition":{"test":"indexof([1,10,100,1000,10000],datum.value)>=0","value":5},"value":3},"labelOverlap":false,"labelFlush":false}},"y":{"field":"y","type":"quantitative","scale":{"domain":[0,100]},"axis":{"title":"Counts","values":[0,5,10,15,20,25,30,35,40,45,50,55,60,65,70,75,80,85,90,95,100],"labelExpr":"datum.value%20==0?''+datum.value:''","labelAngle":-90,"labelAlign":"center","labelBaseline":"bottom","tickSize":{"condition":{"test":"datum.value%20==0","value":5},"value":3},"labelOverlap":false,"labelFlush":false}}},"layer":[{"data":{"name":"h"},"transform":[{"filter":"datum.p=='CD49E'"}],"mark":{"type":"area","color":"#4a4a4a","opacity":1,"fillOpacity":1,"line":{"color":"#000","strokeWidth":1}}},{"data":{"name":"m"},"mark":{"type":"rule","color":"#3a3a3a","strokeWidth":1.8},"encoding":{"x2":{"field":"x2"},"y2":{"field":"y2"}}},{"data":{"name":"t"},"mark":{"type":"text","color":"#666","fontSize":10.5},"encoding":{"text":{"field":"t"}}}]},
{"width":138,"height":115,"encoding":{"x":{"field":"x","type":"quantitative","scale":{"type":"log","domain":[1,10000]},"axis":{"title":"CD44 FITC","values":[1,2,3,4,5,6,7,8,9,10,20,30,40,50,60,70,80,90,100,200,300,400,500,600,700,800,900,1000,2000,3000,4000,5000,6000,7000,8000,9000,10000],"labelExpr":"datum.value==1?'10⁰':datum.value==10?'10¹':datum.value==100?'10²':datum.value==1000?'10³':datum.value==10000?'10⁴':''","tickSize":{"condition":{"test":"indexof([1,10,100,1000,10000],datum.value)>=0","value":5},"value":3},"labelOverlap":false,"labelFlush":false}},"y":{"field":"y","type":"quantitative","scale":{"domain":[0,100]},"axis":{"title":"Counts","values":[0,5,10,15,20,25,30,35,40,45,50,55,60,65,70,75,80,85,90,95,100],"labelExpr":"datum.value%20==0?''+datum.value:''","labelAngle":-90,"labelAlign":"center","labelBaseline":"bottom","tickSize":{"condition":{"test":"datum.value%20==0","value":5},"value":3},"labelOverlap":false,"labelFlush":false}}},"layer":[{"data":{"name":"h"},"transform":[{"filter":"datum.p=='CD44'"}],"mark":{"type":"area","color":"#4a4a4a","opacity":1,"fillOpacity":1,"line":{"color":"#000","strokeWidth":1}}},{"data":{"name":"m"},"mark":{"type":"rule","color":"#3a3a3a","strokeWidth":1.8},"encoding":{"x2":{"field":"x2"},"y2":{"field":"y2"}}},{"data":{"name":"t"},"mark":{"type":"text","color":"#666","fontSize":10.5},"encoding":{"text":{"field":"t"}}}]}
]}]},
{"title":{"text":" "},"spacing":9,"vconcat":[
{"width":138,"height":115,"encoding":{"x":{"field":"x","type":"quantitative","scale":{"type":"log","domain":[1,10000]},"axis":{"title":"CD13 APC","values":[1,2,3,4,5,6,7,8,9,10,20,30,40,50,60,70,80,90,100,200,300,400,500,600,700,800,900,1000,2000,3000,4000,5000,6000,7000,8000,9000,10000],"labelExpr":"datum.value==1?'10⁰':datum.value==10?'10¹':datum.value==100?'10²':datum.value==1000?'10³':datum.value==10000?'10⁴':''","tickSize":{"condition":{"test":"indexof([1,10,100,1000,10000],datum.value)>=0","value":5},"value":3},"labelOverlap":false,"labelFlush":false}},"y":{"field":"y","type":"quantitative","scale":{"domain":[0,100]},"axis":{"title":"Counts","values":[0,5,10,15,20,25,30,35,40,45,50,55,60,65,70,75,80,85,90,95,100],"labelExpr":"datum.value%20==0?''+datum.value:''","labelAngle":-90,"labelAlign":"center","labelBaseline":"bottom","tickSize":{"condition":{"test":"datum.value%20==0","value":5},"value":3},"labelOverlap":false,"labelFlush":false}}},"layer":[{"data":{"name":"h"},"transform":[{"filter":"datum.p=='CD13'"}],"mark":{"type":"area","color":"#4a4a4a","opacity":1,"fillOpacity":1,"line":{"color":"#000","strokeWidth":1}}},{"data":{"name":"m"},"mark":{"type":"rule","color":"#3a3a3a","strokeWidth":1.8},"encoding":{"x2":{"field":"x2"},"y2":{"field":"y2"}}},{"data":{"name":"t"},"mark":{"type":"text","color":"#666","fontSize":10.5},"encoding":{"text":{"field":"t"}}}]},
{"width":138,"height":115,"encoding":{"x":{"field":"x","type":"quantitative","scale":{"type":"log","domain":[1,10000]},"axis":{"title":"CD73 PE","values":[1,2,3,4,5,6,7,8,9,10,20,30,40,50,60,70,80,90,100,200,300,400,500,600,700,800,900,1000,2000,3000,4000,5000,6000,7000,8000,9000,10000],"labelExpr":"datum.value==1?'10⁰':datum.value==10?'10¹':datum.value==100?'10²':datum.value==1000?'10³':datum.value==10000?'10⁴':''","tickSize":{"condition":{"test":"indexof([1,10,100,1000,10000],datum.value)>=0","value":5},"value":3},"labelOverlap":false,"labelFlush":false}},"y":{"field":"y","type":"quantitative","scale":{"domain":[0,100]},"axis":{"title":"Counts","values":[0,5,10,15,20,25,30,35,40,45,50,55,60,65,70,75,80,85,90,95,100],"labelExpr":"datum.value%20==0?''+datum.value:''","labelAngle":-90,"labelAlign":"center","labelBaseline":"bottom","tickSize":{"condition":{"test":"datum.value%20==0","value":5},"value":3},"labelOverlap":false,"labelFlush":false}}},"layer":[{"data":{"name":"h"},"transform":[{"filter":"datum.p=='CD73'"}],"mark":{"type":"area","color":"#4a4a4a","opacity":1,"fillOpacity":1,"line":{"color":"#000","strokeWidth":1}}},{"data":{"name":"m"},"mark":{"type":"rule","color":"#3a3a3a","strokeWidth":1.8},"encoding":{"x2":{"field":"x2"},"y2":{"field":"y2"}}},{"data":{"name":"t"},"mark":{"type":"text","color":"#666","fontSize":10.5},"encoding":{"text":{"field":"t"}}}]}
]}
]}
